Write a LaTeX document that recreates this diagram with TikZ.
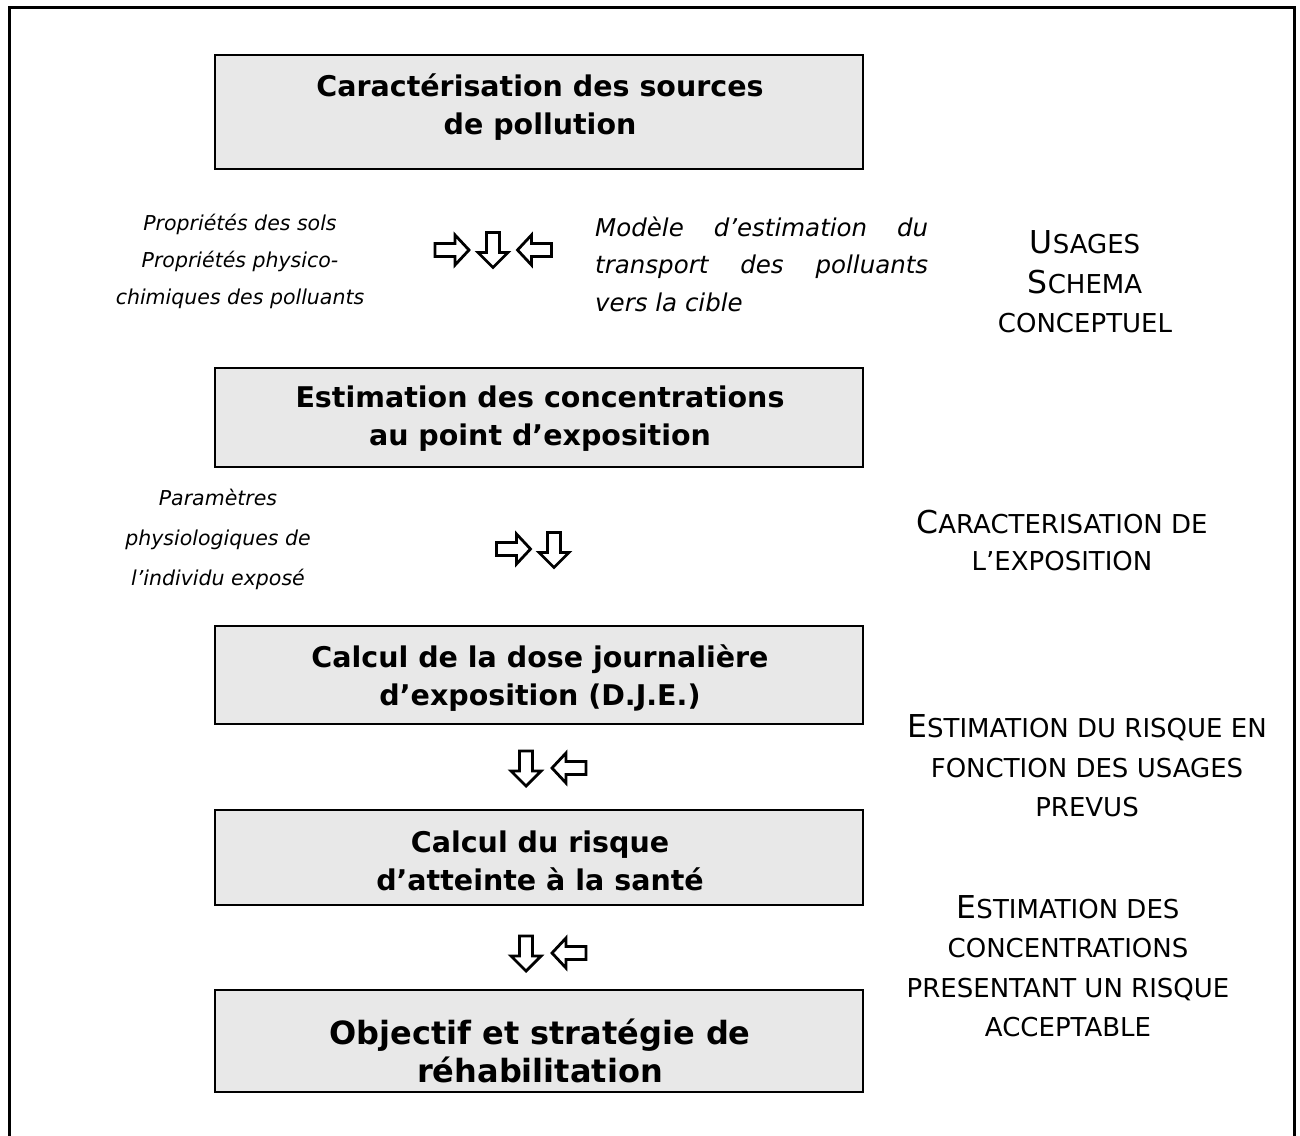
\documentclass[tikz,border=0pt]{standalone}
\usepackage{fontspec}
\setmainfont{DejaVu Sans}
\newcommand\Cap[1]{{\fontsize{31.5}{40}\selectfont #1}}
\begin{document}
\begin{tikzpicture}[x=1pt,y=-1pt,
  stage/.style={draw=black, line width=2.7pt, fill=black!9, minimum width=648pt, inner sep=0pt},
  stagetext/.style={align=center, inner sep=0pt, font=\bfseries\fontsize{28.5}{38}\selectfont},
  note/.style={align=center, inner sep=0pt, font=\itshape\fontsize{20.5}{37}\selectfont},
  phase/.style={align=center, inner sep=0pt, font=\fontsize{26}{39.5}\selectfont},
  hollow/.style={draw=black, line width=2.8pt, fill=white, line join=miter},
  rarr/.pic={\path[hollow] (-17,-6.5) -- (3,-6.5) -- (3,-15) -- (17,0) -- (3,15) -- (3,6.5) -- (-17,6.5) -- cycle;},
  larr/.pic={\path[hollow] (17,-6.5) -- (-3,-6.5) -- (-3,-15) -- (-17,0) -- (-3,15) -- (-3,6.5) -- (17,6.5) -- cycle;},
  darr/.pic={\path[hollow] (-6.5,-17) -- (6.5,-17) -- (6.5,3) -- (15,3) -- (0,18) -- (-15,3) -- (-6.5,3) -- cycle;}
]
\useasboundingbox (0,0) rectangle (1300,1135);
\clip (0,0) rectangle (1300,1135);

% outer frame, open at the bottom
\draw[line width=3pt] (9.5,1140) -- (9.5,7.5) -- (1294,7.5) -- (1294,1140);

% main stages: grey boxes and their titles
\node[stage, minimum height=114pt] (b1) at (539,112) {};
\node[stage, minimum height=99pt]  (b2) at (539,417.5) {};
\node[stage, minimum height=98pt]  (b3) at (539,675) {};
\node[stage, minimum height=95pt]  (b4) at (539,857.5) {};
\node[stage, minimum height=102pt] (b5) at (539,1041) {};

\node[stagetext] (t1) at (540,107) {Caractérisation des sources\\ de pollution};
\node[stagetext] (t2) at (540,419) {Estimation des concentrations\\ au point d’exposition};
\node[stagetext] (t3) at (540,678.5) {Calcul de la dose journalière\\ d’exposition (D.J.E.)};
\node[stagetext] (t4) at (540,861) {Calcul du risque\\ d’atteinte à la santé};
\node[stagetext, font=\bfseries\fontsize{32}{38}\selectfont] (t5) at (540,1051) {Objectif et stratégie de\\ réhabilitation};

% inputs
\node[note] (n1) at (240,261) {Propriétés des sols\\ Propriétés physico-\\ chimiques des polluants};
\node[note, align=left, anchor=west, font=\itshape\fontsize{24.5}{37.5}\selectfont] (n2) at (595,264)
  {\makebox[333pt][s]{Modèle d’estimation du}\\ \makebox[333pt][s]{transport des polluants}\\ vers la cible};
\node[note, font=\itshape\fontsize{20.5}{40}\selectfont] (n3) at (218,539) {Paramètres\\ physiologiques de\\ l’individu exposé};

% phases
\node[phase] (p1) at (1085,282) {\Cap{U}SAGES\\ \Cap{S}CHEMA\\ CONCEPTUEL};
\node[phase, font=\fontsize{26}{37}\selectfont] (p2) at (1062,540) {\Cap{C}ARACTERISATION DE\\ L’EXPOSITION};
\node[phase] (p3) at (1087,766) {\Cap{E}STIMATION DU RISQUE EN\\ FONCTION DES USAGES\\ PREVUS};
\node[phase] (p4) at (1068,966) {\Cap{E}STIMATION DES\\ CONCENTRATIONS\\ PRESENTANT UN RISQUE\\ ACCEPTABLE};

% hollow arrows
\pic at (452,250) {rarr};
\pic at (493,249.5) {darr};
\pic at (534.5,250) {larr};
\pic at (513.5,549) {rarr};
\pic at (554,549.5) {darr};
\pic at (526,768) {darr};
\pic at (569,768) {larr};
\pic at (526,953) {darr};
\pic at (569,953) {larr};
\end{tikzpicture}
\end{document}
